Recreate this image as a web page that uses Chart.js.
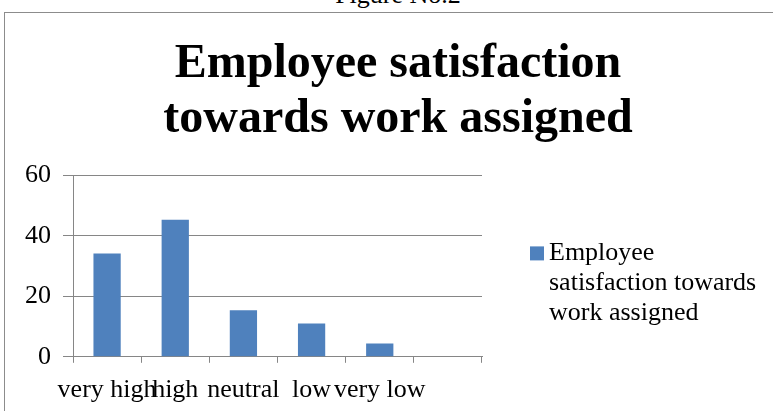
<!DOCTYPE html>
<html>
<head>
<meta charset="utf-8">
<script src="https://cdn.jsdelivr.net/npm/chart.js@4/dist/chart.umd.min.js"></script>
<style>
  html, body { margin: 0; padding: 0; width: 773px; height: 411px; overflow: hidden; background: #fff; }
  #caption { position: absolute; left: 0; width: 796px; top: -18px; text-align: center;
             font-family: "Liberation Serif", "Times New Roman", serif; font-size: 26px; line-height: 26px; color: #000; }
  #frame { position: absolute; left: 4px; top: 12px; width: 900px; height: 500px;
           border-left: 1px solid #8c8c8c; border-top: 1px solid #8c8c8c; }
  #wrap { position: absolute; left: 1px; top: 1px; width: 784px; height: 404px; }
</style>
</head>
<body>
<div id="caption">Figure No.2</div>
<div id="frame"><div id="wrap"><canvas id="c" width="784" height="404"></canvas></div></div>
<script>
const titleLines = ["Employee satisfaction", "towards work assigned"];
const categories = ["very high", "high", "neutral", "low", "very low", ""];
const values = [34.2, 45.3, 15.4, 11, 4.4, null];
const seriesLabel = "Employee satisfaction towards work assigned";
const legendLines = ["Employee", "satisfaction towards", "work assigned"];
const yMin = 0, yMax = 60, yStep = 20;

const FONT = "'Liberation Serif', 'Times New Roman', serif";
const BAR = "#4F81BD";
const GRID = "#868686";

const legendPlugin = {
  id: "sideLegend",
  afterDraw(chart) {
    const ctx = chart.ctx;
    const a = chart.chartArea;
    const ds = chart.data.datasets[0];
    const x0 = a.right + 48;
    const y0 = a.top + 85;
    ctx.save();
    ctx.fillStyle = ds.backgroundColor;
    ctx.fillRect(x0, y0 - 14, 14, 14);
    ctx.fillStyle = "#000";
    ctx.font = "26px " + FONT;
    ctx.textBaseline = "alphabetic";
    ctx.textAlign = "left";
    legendLines.forEach((t, i) => ctx.fillText(t, x0 + 19, y0 + i * 30));
    ctx.restore();
  }
};

new Chart(document.getElementById("c"), {
  type: "bar",
  data: {
    labels: categories,
    datasets: [{
      label: seriesLabel,
      data: values,
      backgroundColor: BAR,
      borderWidth: 0,
      barPercentage: 0.4,
      categoryPercentage: 1.0
    }]
  },
  options: {
    responsive: false,
    animation: false,
    devicePixelRatio: 1,
    layout: { padding: { left: 0, right: 0, top: 0, bottom: 0 } },
    plugins: {
      legend: { display: false },
      tooltip: { enabled: false },
      title: {
        display: true,
        text: titleLines,
        color: "#000",
        font: { family: FONT, size: 48, weight: "bold", lineHeight: 1.15 },
        padding: { top: 23, bottom: 28 }
      }
    },
    scales: {
      x: {
        offset: true,
        grid: { display: true, offset: true, drawOnChartArea: false, drawTicks: true, tickLength: 6, color: GRID, lineWidth: 1 },
        border: { display: true, color: GRID, width: 1 },
        ticks: { color: "#000", font: { family: FONT, size: 26 }, padding: 12, maxRotation: 0, autoSkip: false }
      },
      y: {
        min: yMin, max: yMax,
        afterFit(s) { s.width = 67; },
        grid: { color: GRID, lineWidth: 1, drawTicks: true, tickLength: 10 },
        border: { display: true, color: GRID, width: 1 },
        ticks: { stepSize: yStep, color: "#000", font: { family: FONT, size: 26 }, padding: 12 }
      },
      yR: {
        position: "right",
        display: true,
        min: yMin, max: yMax,
        afterFit(s) { s.width = 308; },
        grid: { display: false, drawOnChartArea: false },
        border: { display: false },
        ticks: { display: false }
      }
    }
  },
  plugins: [legendPlugin]
});
</script>
</body>
</html>
